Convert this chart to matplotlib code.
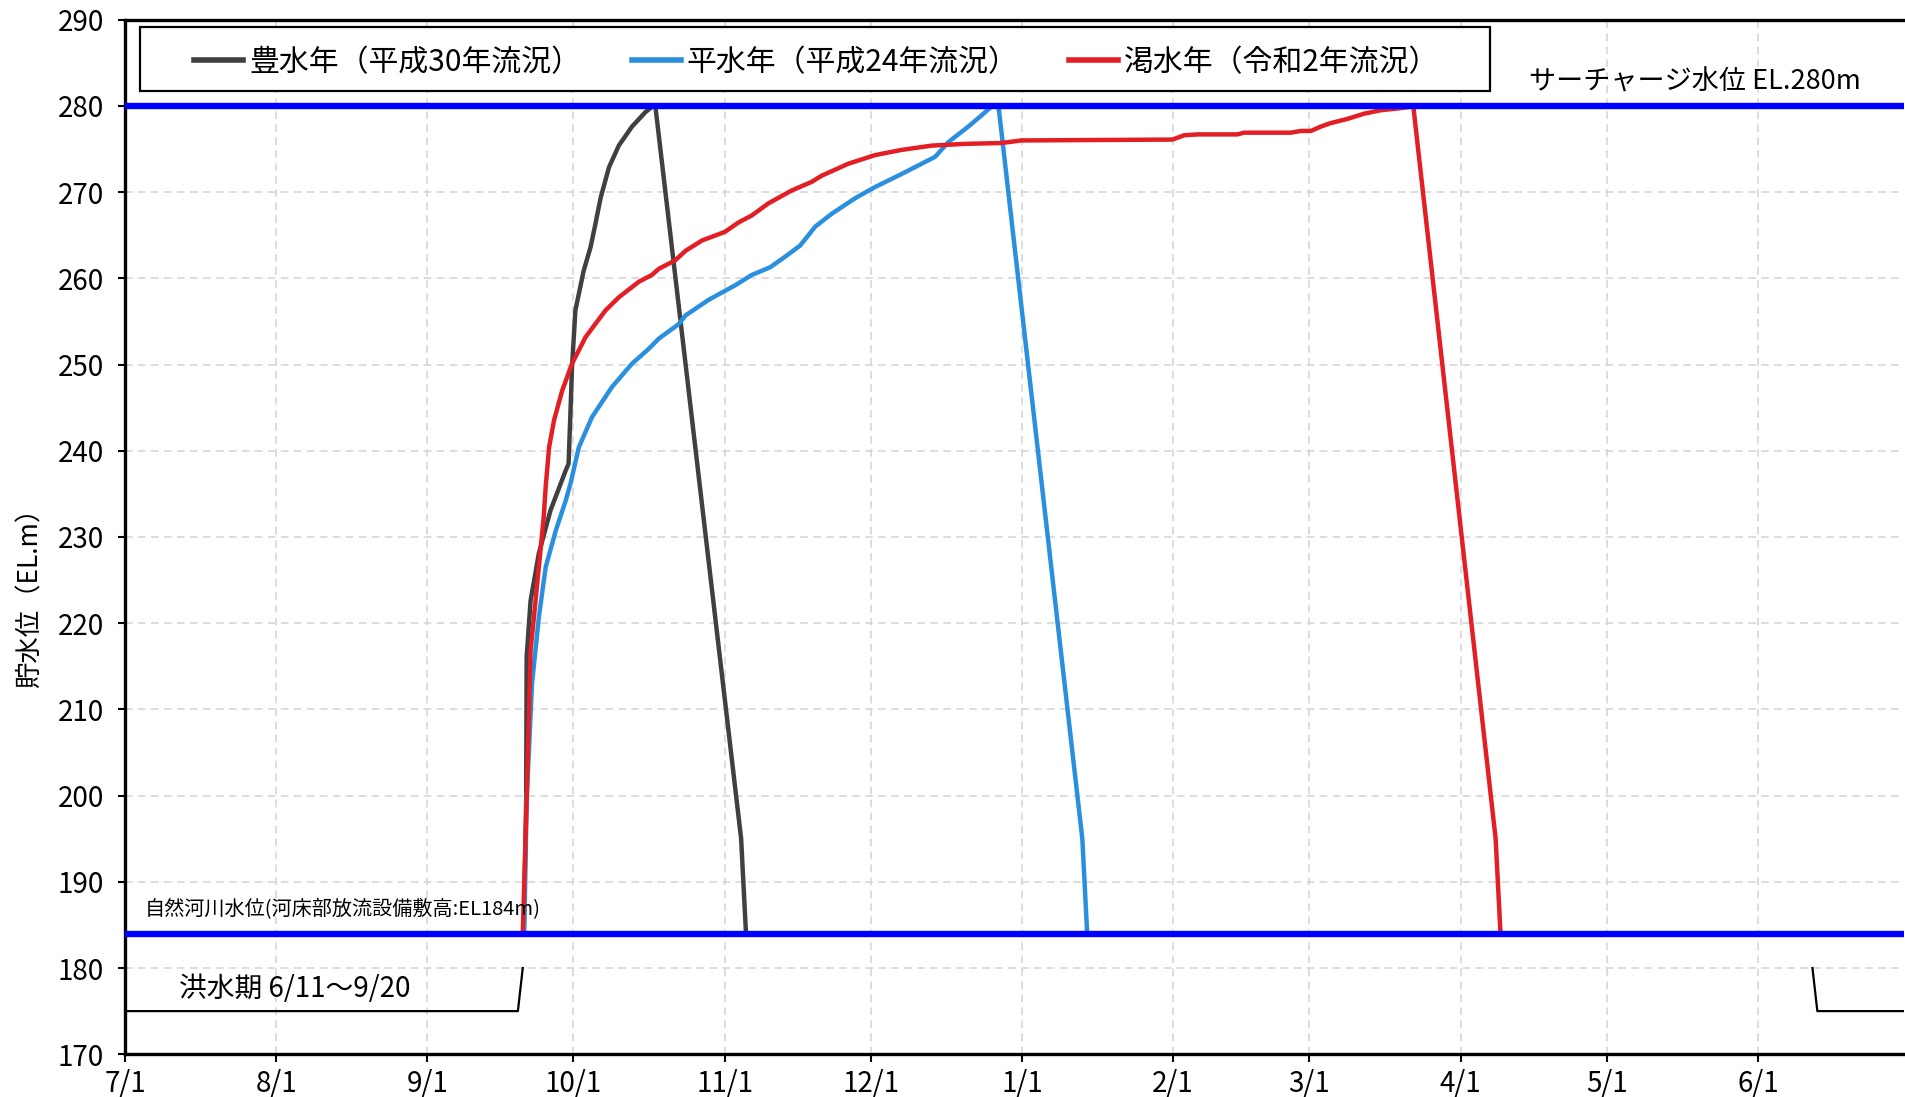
import matplotlib
matplotlib.use('Agg')
import matplotlib.pyplot as plt
from matplotlib.patches import Rectangle

plt.rcParams['font.family'] = ['Noto Sans CJK JP', 'DejaVu Sans']

# 7/1 を 0 日目とした経過日数と貯水位 (EL.m)
dias_hosui = [81.8, 82.3, 82.4, 83.2, 84.9, 87.3, 90.4, 91.0, 91.4, 91.7, 92.4, 94.1, 95.5,
              96.5, 97.6, 99.3, 101.3, 104.0, 106.8, 108.1, 108.8, 126.4, 127.4]
nivel_hosui = [184, 199.5, 216.1, 222.6, 228.1, 233.1, 237.7, 238.5, 244.7, 249.7, 256.3, 260.9, 263.6,
               266.3, 269.4, 272.9, 275.4, 277.6, 279.3, 279.9, 280, 195, 184]

dias_heisui = [81.9, 82.4, 83.5, 84.9, 86.3, 88.4, 90.4, 91.4, 93.1, 95.8, 99.9, 104.0, 107.4,
               109.5, 113.6, 115.0, 119.7, 125.2, 128.6, 132.4, 135.4, 138.5, 141.6, 145.0,
               149.8, 153.9, 159.3, 166.2, 168.9, 173.0, 175.7, 177.7, 179.2, 196.4, 197.4]
nivel_heisui = [184, 199.5, 213.0, 220.7, 226.5, 230.8, 234.2, 236.2, 240.4, 243.9, 247.4, 250.1, 251.8,
                253.0, 254.7, 255.7, 257.5, 259.2, 260.4, 261.3, 262.5, 263.8, 266.0, 267.5,
                269.3, 270.6, 272.1, 274.1, 275.8, 277.6, 278.9, 279.9, 280, 195, 184]

dias_kassui = [81.6, 82.4, 83.2, 84.9, 85.9, 86.3, 87.0, 88.0, 89.7, 91.7, 94.5, 98.6, 101.3,
               105.4, 108.1, 109.5, 112.9, 115.0, 118.4, 123.1, 125.9, 128.6, 132.0, 136.8,
               140.9, 142.9, 148.4, 153.9, 159.3, 165.5, 172.3, 179.8, 183.9, 214.9, 217.3,
               220.1, 228.2, 229.6, 239.2, 241.2, 243.3, 245.3, 247.3, 250.8, 254.2, 257.6,
               261.0, 263.7, 264.3, 281.2, 282.2]
nivel_kassui = [184, 199.5, 216.8, 226.5, 232.3, 235.8, 240.4, 243.5, 247.0, 250.1, 253.2, 256.3, 257.8,
                259.6, 260.4, 261.1, 262.1, 263.2, 264.4, 265.4, 266.5, 267.3, 268.7, 270.2,
                271.2, 271.9, 273.3, 274.3, 274.9, 275.4, 275.6, 275.7, 276.0, 276.1, 276.6,
                276.7, 276.7, 276.9, 276.9, 277.1, 277.1, 277.6, 278.0, 278.5, 279.1, 279.5,
                279.7, 279.9, 280, 195, 184]

# 基準水位
nivel_surcharge = 280
nivel_rio = 184

# 洪水期の表示線
dias_kozui_ini = [0, 80.6, 81.6]
nivel_kozui_ini = [175, 175, 180]
dias_kozui_fin = [346.2, 347.2, 365]
nivel_kozui_fin = [180, 175, 175]

# 月の目盛り
dias_mes = [0, 31, 62, 92, 123, 153, 184, 215, 243, 274, 304, 335]
etiquetas_mes = ['7/1', '8/1', '9/1', '10/1', '11/1', '12/1', '1/1', '2/1', '3/1', '4/1', '5/1', '6/1']

fig = plt.figure(figsize=(19.06, 10.97), dpi=100)
ax = fig.add_axes([0.0656, 0.039, 0.9334, 0.943])

ax.plot(dias_hosui, nivel_hosui, color='#404040', lw=3.2, label='豊水年（平成30年流況）', zorder=3)
ax.plot(dias_heisui, nivel_heisui, color='#2B8FE0', lw=3.2, label='平水年（平成24年流況）', zorder=3)
ax.plot(dias_kassui, nivel_kassui, color='#E31E24', lw=3.2, label='渇水年（令和2年流況）', zorder=3)

ax.axhline(nivel_surcharge, color='#0000FF', lw=4.6, zorder=4)
ax.axhline(nivel_rio, color='#0000FF', lw=4.6, zorder=4)

ax.plot(dias_kozui_ini, nivel_kozui_ini, color='black', lw=1.6)
ax.plot(dias_kozui_fin, nivel_kozui_fin, color='black', lw=1.6)

ax.text(288, 281.2, 'サーチャージ水位 EL.280m', fontsize=19.5, va='bottom', ha='left')
ax.text(4, 185.5, '自然河川水位(河床部放流設備敷高:EL184m)', fontsize=14.5, va='bottom', ha='left')
ax.text(11, 177.6, '洪水期 6/11～9/20', fontsize=20, va='center', ha='left')

ax.set_xlim(0, 365)
ax.set_ylim(170, 290)
ax.set_xticks(dias_mes)
ax.set_xticklabels(etiquetas_mes)
ax.set_yticks(range(170, 291, 10))

ax.grid(True, color='#D3D3D3', lw=1.1, linestyle=(0, (5, 3.5)))
ax.set_axisbelow(True)

for lado in ['left', 'bottom', 'top']:
    ax.spines[lado].set_linewidth(2.4)
    ax.spines[lado].set_color('black')
ax.spines['right'].set_visible(False)

ax.tick_params(axis='y', direction='out', length=5, width=1.5, labelsize=20, pad=10)
ax.tick_params(axis='x', direction='out', length=5.5, width=1.5, labelsize=20, pad=5)

ax.set_ylabel('貯水位（EL.m）', fontsize=19)
ax.yaxis.set_label_coords(-0.046, 0.447)

# 凡例の枠
marco = Rectangle((0.0084, 0.931), 0.759, 0.062, transform=ax.transAxes, fill=True,
                  facecolor='white', edgecolor='black', lw=1.6, zorder=5)
ax.add_patch(marco)

leg = ax.legend(loc='center left', bbox_to_anchor=(0.039, 0.959), ncol=3, fontsize=21.5,
                frameon=False, borderpad=0, handlelength=1.63, handletextpad=0.2,
                columnspacing=1.7, borderaxespad=0)
for linea in leg.get_lines():
    linea.set_linewidth(4)
leg.set_zorder(6)

plt.savefig('out.png', dpi=100)
